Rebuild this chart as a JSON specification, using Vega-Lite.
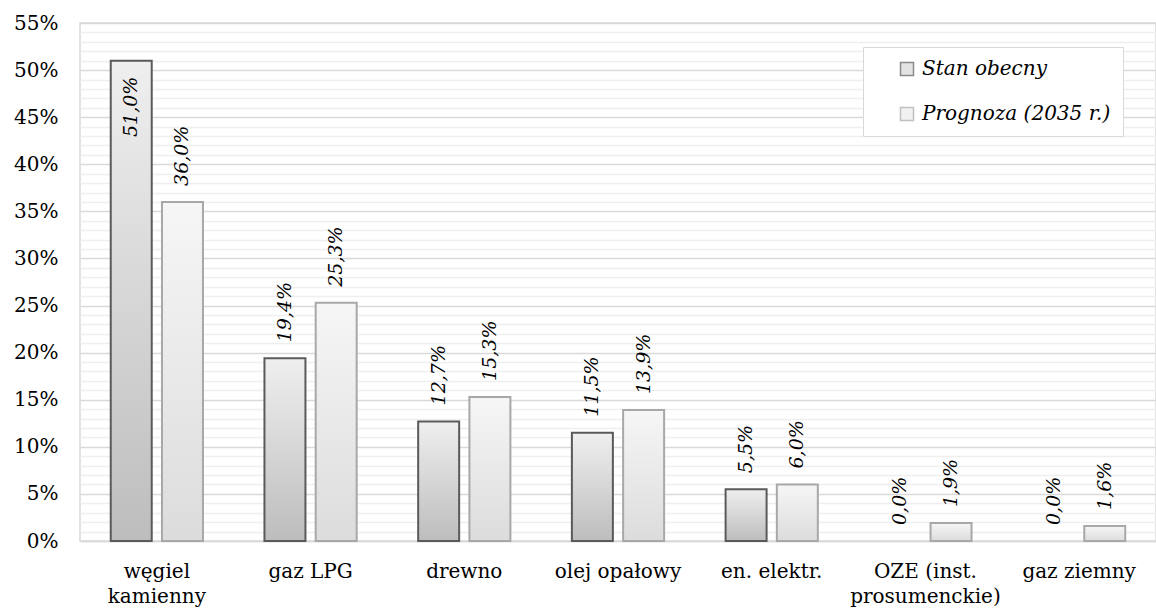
{
  "$schema": "https://vega.github.io/schema/vega-lite/v6.json",
  "width": 1076,
  "height": 518,
  "autosize": {"type": "none"},
  "padding": {"left": 80, "top": 23, "right": 0, "bottom": 71},
  "background": "white",
  "config": {
    "locale": {"number": {"decimal": ",", "thousands": " ", "grouping": [3], "currency": ["", " zł"]}},
    "view": {"stroke": "#d9d9d9", "strokeWidth": 1.5},
    "font": "DejaVu Serif"
  },
  "data": {
    "values": [
      {"kategoria": "węgiel kamienny", "seria": "Stan obecny", "udzial": 0.51},
      {"kategoria": "węgiel kamienny", "seria": "Prognoza (2035 r.)", "udzial": 0.36},
      {"kategoria": "gaz LPG", "seria": "Stan obecny", "udzial": 0.194},
      {"kategoria": "gaz LPG", "seria": "Prognoza (2035 r.)", "udzial": 0.253},
      {"kategoria": "drewno", "seria": "Stan obecny", "udzial": 0.127},
      {"kategoria": "drewno", "seria": "Prognoza (2035 r.)", "udzial": 0.153},
      {"kategoria": "olej opałowy", "seria": "Stan obecny", "udzial": 0.115},
      {"kategoria": "olej opałowy", "seria": "Prognoza (2035 r.)", "udzial": 0.139},
      {"kategoria": "en. elektr.", "seria": "Stan obecny", "udzial": 0.055},
      {"kategoria": "en. elektr.", "seria": "Prognoza (2035 r.)", "udzial": 0.06},
      {"kategoria": "OZE (inst. prosumenckie)", "seria": "Stan obecny", "udzial": 0.0},
      {"kategoria": "OZE (inst. prosumenckie)", "seria": "Prognoza (2035 r.)", "udzial": 0.019},
      {"kategoria": "gaz ziemny", "seria": "Stan obecny", "udzial": 0.0},
      {"kategoria": "gaz ziemny", "seria": "Prognoza (2035 r.)", "udzial": 0.016}
    ]
  },
  "encoding": {
    "x": {
      "field": "kategoria",
      "type": "nominal",
      "sort": null,
      "scale": {"paddingInner": 0.4, "paddingOuter": 0.2},
      "axis": {
        "title": null,
        "labelAngle": 0,
        "labelFont": "DejaVu Serif",
        "labelFontSize": 20,
        "labelColor": "#000000",
        "labelPadding": 20,
        "labelLineHeight": 25,
        "ticks": false,
        "domainColor": "#d9d9d9",
        "domainWidth": 1.5,
        "labelExpr": "datum.label == 'węgiel kamienny' ? ['węgiel', 'kamienny'] : datum.label == 'OZE (inst. prosumenckie)' ? ['OZE (inst.', 'prosumenckie)'] : datum.label"
      }
    },
    "xOffset": {
      "field": "seria",
      "type": "nominal",
      "scale": {"domain": ["Stan obecny", "Prognoza (2035 r.)"], "paddingInner": 0.2}
    },
    "y": {
      "field": "udzial",
      "type": "quantitative",
      "scale": {"domain": [0, 0.55], "nice": false}
    }
  },
  "layer": [
    {
      "mark": {"type": "square", "size": 0, "strokeWidth": 0},
      "encoding": {
        "y": {
          "field": "udzial",
          "type": "quantitative",
          "scale": {"domain": [0, 0.55], "nice": false},
          "axis": {
            "orient": "right",
            "title": null,
            "labels": false,
            "ticks": false,
            "domain": false,
            "grid": true,
            "gridColor": "#efefef",
            "gridWidth": 1.5,
            "values": [0.01, 0.02, 0.03, 0.04, 0.06, 0.07, 0.08, 0.09, 0.11, 0.12, 0.13, 0.14, 0.16, 0.17, 0.18, 0.19, 0.21, 0.22, 0.23, 0.24, 0.26, 0.27, 0.28, 0.29, 0.31, 0.32, 0.33, 0.34, 0.36, 0.37, 0.38, 0.39, 0.41, 0.42, 0.43, 0.44, 0.46, 0.47, 0.48, 0.49, 0.51, 0.52, 0.53, 0.54]
          }
        },
        "fill": {
          "field": "seria",
          "type": "nominal",
          "scale": {"domain": ["Stan obecny", "Prognoza (2035 r.)"], "range": ["#c8c8c8", "#e4e4e4"]},
          "legend": {
            "title": null,
            "orient": "none",
            "legendX": 783,
            "legendY": 24,
            "direction": "vertical",
            "fillColor": "white",
            "strokeColor": "#d9d9d9",
            "padding": 12,
            "offset": 0,
            "rowPadding": 25,
            "symbolOffset": 22,
            "symbolType": "square",
            "symbolSize": 169,
            "symbolOpacity": 1,
            "symbolStrokeWidth": 1.5,
            "labelFont": "DejaVu Serif",
            "labelFontSize": 20,
            "labelFontStyle": "italic",
            "labelColor": "#000000",
            "labelOffset": 5,
            "labelLimit": 300
          }
        },
        "stroke": {
          "field": "seria",
          "type": "nominal",
          "scale": {"domain": ["Stan obecny", "Prognoza (2035 r.)"], "range": ["#5a5a5a", "#a8a8a8"]}
        }
      }
    },
    {
      "transform": [{"filter": "datum.seria == 'Stan obecny' && datum.udzial > 0"}],
      "mark": {
        "type": "bar",
        "strokeWidth": 2,
        "stroke": "#5a5a5a",
        "fill": {"gradient": "linear", "x1": 0, "y1": 0, "x2": 0, "y2": 1, "stops": [{"offset": 0, "color": "#efefef"}, {"offset": 1, "color": "#bdbdbd"}]}
      },
      "encoding": {
        "y": {
          "field": "udzial",
          "type": "quantitative",
          "scale": {"domain": [0, 0.55], "nice": false},
          "axis": {
            "orient": "left",
            "title": null,
            "format": ".0%",
            "values": [0, 0.05, 0.1, 0.15, 0.2, 0.25, 0.3, 0.35, 0.4, 0.45, 0.5, 0.55],
            "labelFont": "DejaVu Serif",
            "labelFontSize": 20,
            "labelColor": "#000000",
            "labelPadding": 22,
            "ticks": false,
            "domain": false,
            "grid": true,
            "gridColor": "#d9d9d9",
            "gridWidth": 1.5
          }
        }
      }
    },
    {
      "transform": [{"filter": "datum.seria == 'Prognoza (2035 r.)' && datum.udzial > 0"}],
      "mark": {
        "type": "bar",
        "strokeWidth": 2,
        "stroke": "#a8a8a8",
        "fill": {"gradient": "linear", "x1": 0, "y1": 0, "x2": 0, "y2": 1, "stops": [{"offset": 0, "color": "#f6f6f6"}, {"offset": 1, "color": "#dcdcdc"}]}
      },
      "encoding": {
        "y": {
          "field": "udzial",
          "type": "quantitative",
          "scale": {"domain": [0, 0.55], "nice": false},
          "axis": null
        }
      }
    },
    {
      "transform": [{"filter": "datum.udzial < 0.45"}],
      "mark": {"type": "text", "angle": 270, "align": "left", "baseline": "middle", "dx": 16, "font": "DejaVu Serif", "fontSize": 19, "fontStyle": "italic", "color": "#000000"},
      "encoding": {
        "y": {"field": "udzial", "type": "quantitative", "scale": {"domain": [0, 0.55], "nice": false}, "axis": null},
        "text": {"field": "udzial", "type": "quantitative", "format": ".1%"}
      }
    },
    {
      "transform": [{"filter": "datum.udzial >= 0.45"}],
      "mark": {"type": "text", "angle": 270, "align": "right", "baseline": "middle", "dx": -16, "font": "DejaVu Serif", "fontSize": 19, "fontStyle": "italic", "color": "#000000"},
      "encoding": {
        "y": {"field": "udzial", "type": "quantitative", "scale": {"domain": [0, 0.55], "nice": false}, "axis": null},
        "text": {"field": "udzial", "type": "quantitative", "format": ".1%"}
      }
    }
  ],
  "resolve": {"axis": {"y": "independent"}}
}
